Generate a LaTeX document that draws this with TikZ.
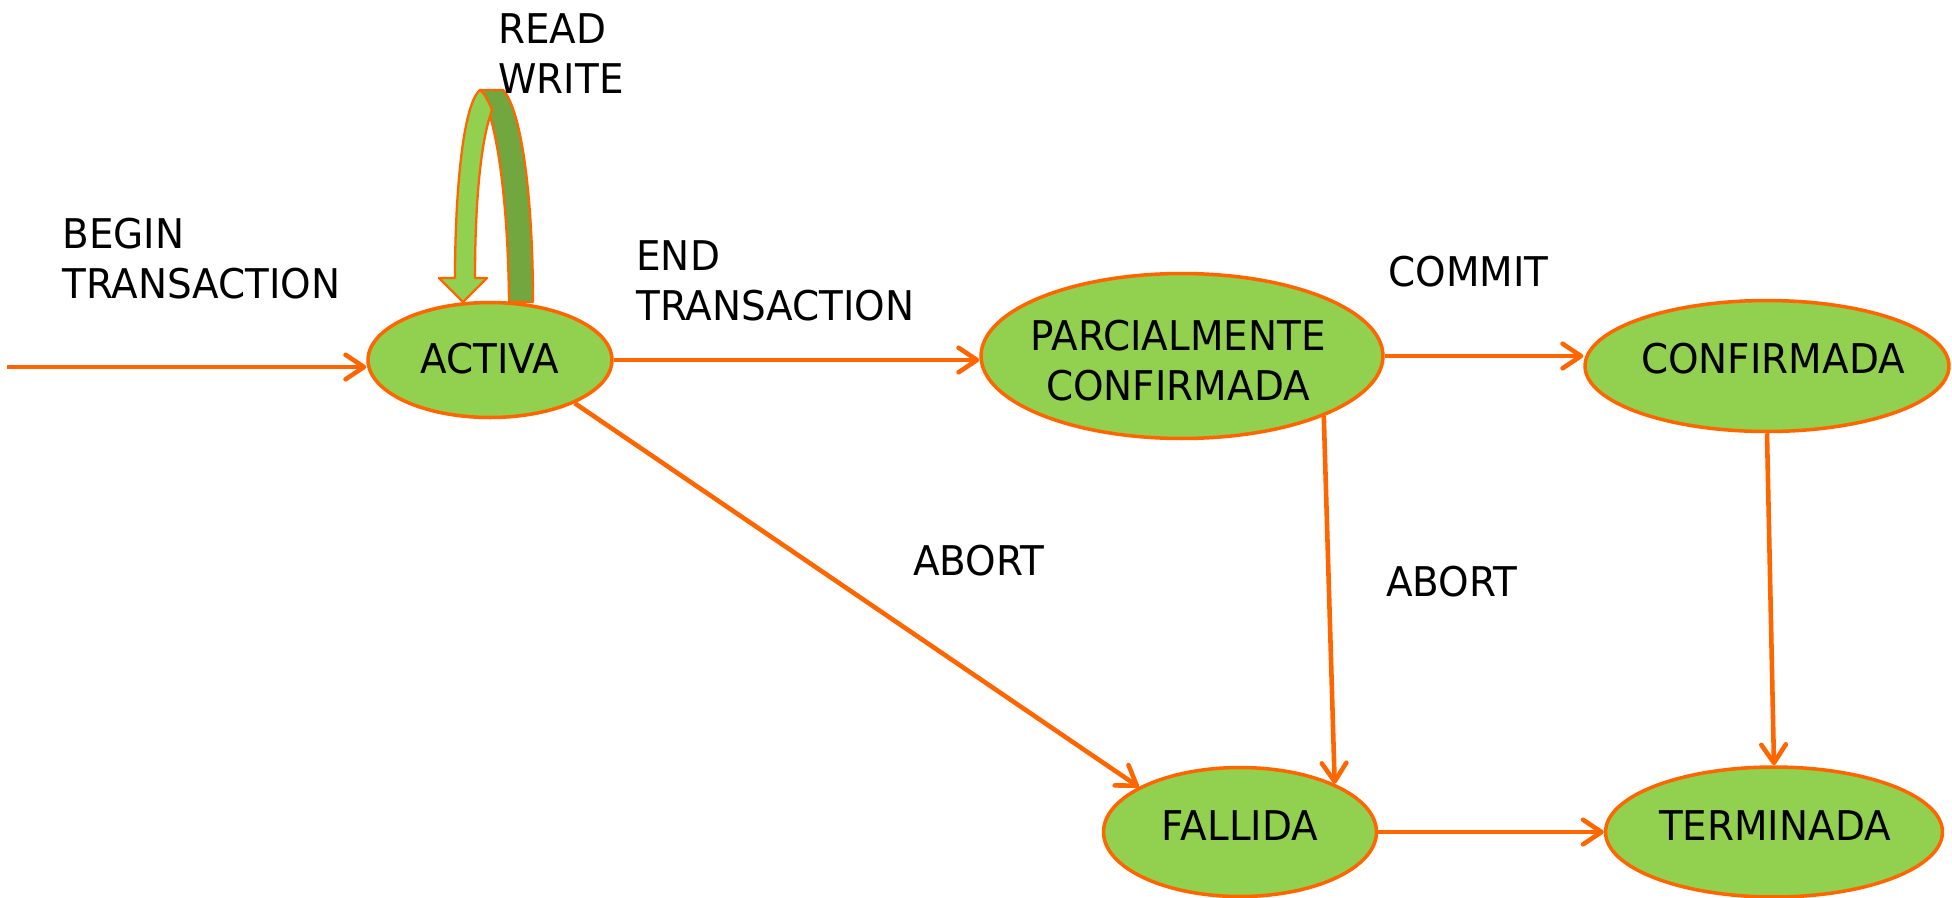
\documentclass[tikz,border=0pt]{standalone}
\usepackage{fontspec}
\setmainfont{DejaVu Sans}[FakeStretch=0.95]
\usetikzlibrary{shapes.geometric,arrows.meta}
\definecolor{lineorange}{HTML}{FF6600}
\definecolor{stategreen}{HTML}{92D050}
\definecolor{darkgreen}{HTML}{72A63F}
\tikzset{
  state/.style={ellipse, draw=lineorange, fill=stategreen, line width=2pt, inner sep=0pt},
  lbl/.style={inner sep=0pt, font=\fontsize{23.3}{28.45}\selectfont, align=left},
  stxt/.style={inner sep=0pt, font=\fontsize{23.3}{28.45}\selectfont, align=center},
  arr/.style={draw=lineorange, line width=2.6pt,
    -{Straight Barb[length=10.5pt,width=14pt,line cap=round,line join=round]}},
  loopface/.style={draw=lineorange, line width=1.3pt, line join=round}
}
\begin{document}
\begin{tikzpicture}[x=0.02cm,y=-0.02cm]
\useasboundingbox (0,0) rectangle (1952,897);

% states
\node[state, minimum width=4.88cm, minimum height=2.30cm] (act)  at (490,360) {};
\node[state, minimum width=8.04cm, minimum height=3.30cm] (parc) at (1182,356) {};
\node[state, minimum width=7.28cm, minimum height=2.62cm] (conf) at (1767,366) {};
\node[state, minimum width=5.46cm, minimum height=2.58cm] (fall) at (1240,832) {};
\node[state, minimum width=6.74cm, minimum height=2.60cm] (term) at (1774,832) {};

% state names
\node[stxt, anchor=base] (tact)  at (490,373) {ACTIVA};
\node[stxt, anchor=north] (tparc) at (1178,320) {PARCIALMENTE\\ CONFIRMADA};
\node[stxt, anchor=base] (tconf) at (1773,373) {CONFIRMADA};
\node[stxt, anchor=base] (tfall) at (1240,840) {FALLIDA};
\node[stxt, anchor=base] (tterm) at (1775,840) {TERMINADA};

% transitions
\coordinate (entry) at (7,367);
\draw[arr] (entry) -- (entry -| act.west);
\draw[arr] (act.east) -- (act.east -| parc.west);
\draw[arr] (parc.east) -- (parc.east -| conf.west);
\draw[arr] (act.-27) -- (fall.156);
\draw[arr] (parc.-23.1) -- (fall.27.5);
\draw[arr] (conf.south) -- (term.north);
\draw[arr] (fall.east) -- (fall.east -| term.west);

% READ / WRITE self loop drawn as a curved block arrow
\fill[darkgreen] (480,90) -- (503,90) .. controls (522,110) and (533,200) .. (533,302)
  -- (509,302) .. controls (508,200) and (497,120) .. (480,90) -- cycle;
\draw[loopface] (480,90) -- (503,90) .. controls (522,110) and (533,200) .. (533,302)
  -- (509,302) .. controls (508,200) and (497,120) .. (480,90) -- cycle;
\filldraw[loopface, fill=stategreen] (480,90) .. controls (462,105) and (455,200) .. (455,278)
  -- (439,278) -- (463,302) -- (487,278) -- (475,278)
  .. controls (475,200) and (481,140) .. (492,110)
  .. controls (488,100) and (484,93) .. (480,90) -- cycle;

% transition labels
\node[lbl, anchor=north west] (lrw)  at (498,13)  {READ\\WRITE};
\node[lbl, anchor=north west] (lbeg) at (62,218)  {BEGIN\\TRANSACTION};
\node[lbl, anchor=north west] (lend) at (636,240) {END\\TRANSACTION};
\node[lbl, anchor=north west] (lcom) at (1388,256) {COMMIT};
\node[lbl, anchor=north west] (lab1) at (913,545) {ABORT};
\node[lbl, anchor=north west] (lab2) at (1386,566) {ABORT};
\end{tikzpicture}
\end{document}
